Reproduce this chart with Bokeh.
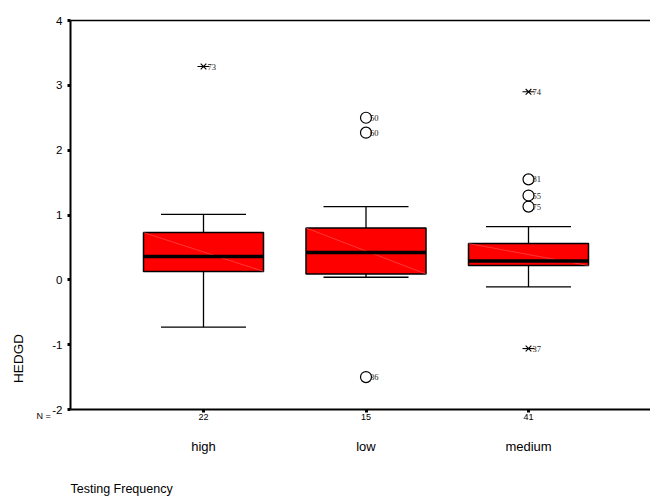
import math
from bokeh.plotting import figure
from bokeh.models import Range1d, FixedTicker, LinearAxis, Label
from bokeh.embed import file_html
from bokeh.resources import INLINE

# ---- data ----
categories = ["high", "low", "medium"]
n_counts = ["22", "15", "41"]
q1 = [0.13, 0.09, 0.22]
medians = [0.36, 0.42, 0.29]
q3 = [0.73, 0.80, 0.56]
whisker_low = [-0.73, 0.04, -0.11]
whisker_high = [1.01, 1.13, 0.82]

out_cat = ["high", "low", "low", "low", "medium", "medium", "medium", "medium", "medium"]
out_val = [3.29, 2.50, 2.27, -1.50, 2.90, 1.55, 1.30, 1.13, -1.06]
out_id = ["73", "50", "60", "36", "74", "81", "55", "75", "37"]
out_kind = ["extreme", "outlier", "outlier", "outlier", "extreme", "outlier", "outlier", "outlier", "extreme"]

y_ticks = [-2, -1, 0, 1, 2, 3, 4]
y_min, y_max = -2, 4

# ---- layout (pixel geometry of the canvas) ----
FONT = "Liberation Sans"
W, H = 650, 500
PLOT_LEFT, PLOT_TOP, PLOT_BOTTOM = 70, 20, 409     # canvas px of the axes box
FIRST_CAT_PX, CAT_STEP = 203, 162.5                # canvas px of first category, spacing
ppy = (PLOT_BOTTOM - PLOT_TOP) / (y_max - y_min)

def xd(px):
    return 1 + (px - FIRST_CAT_PX) / CAT_STEP

def yd(py):
    return y_max - (py - PLOT_TOP) / ppy

x_range = Range1d(xd(0), xd(W))
y_range = Range1d(yd(H), yd(0))
x_axis_start = xd(PLOT_LEFT)

p = figure(width=W, height=H, output_backend="svg", toolbar_location=None,
           x_range=x_range, y_range=y_range, title=None,
           min_border_left=0, min_border_top=0, min_border_bottom=0, min_border_right=0)
p.outline_line_color = None
p.grid.visible = False
p.background_fill_color = "white"
p.border_fill_color = "white"

xs = [i + 1 for i in range(len(categories))]
pos = dict(zip(categories, xs))
box_w = 120 / CAT_STEP
cap_w = 85 / CAT_STEP

# whiskers
p.segment(xs, q3, xs, whisker_high, line_color="black", line_width=1.3)
p.segment(xs, q1, xs, whisker_low, line_color="black", line_width=1.3)
p.segment([x - cap_w / 2 for x in xs], whisker_high, [x + cap_w / 2 for x in xs], whisker_high,
          line_color="black", line_width=1.3)
p.segment([x - cap_w / 2 for x in xs], whisker_low, [x + cap_w / 2 for x in xs], whisker_low,
          line_color="black", line_width=1.3)
# boxes
p.vbar(x=xs, width=box_w, bottom=q1, top=q3, fill_color="#ff0000", line_color="black", line_width=1.5)
# faint diagonal artifact
p.segment([x - box_w / 2 for x in xs], q3, [x + box_w / 2 for x in xs], q1,
          line_color="#ff5a5a", line_width=0.6)
# medians
p.segment([x - box_w / 2 for x in xs], medians, [x + box_w / 2 for x in xs], medians,
          line_color="black", line_width=3.5)

# outliers
ox = [pos[c] for c in out_cat]
cx = [x for x, k in zip(ox, out_kind) if k == "outlier"]
cy = [v for v, k in zip(out_val, out_kind) if k == "outlier"]
ex = [x for x, k in zip(ox, out_kind) if k == "extreme"]
ey = [v for v, k in zip(out_val, out_kind) if k == "extreme"]
p.scatter(cx, cy, marker="circle", size=11, fill_color="white", fill_alpha=0,
          line_color="black", line_width=1.2)
p.scatter(ex, ey, marker="x", size=8, line_color="black", line_width=1.1)
p.scatter(ex, ey, marker="dash", size=12, line_color="black", line_width=1.1)
p.text(ox, out_val, text=out_id, x_offset=4, text_baseline="middle", text_align="left",
       text_font=FONT, text_font_size="8.5px", text_color="#222222")

# axes (fixed in place inside the canvas)
ya = p.yaxis[0]
ya.fixed_location = x_axis_start
ya.bounds = (y_min, y_max)
ya.ticker = FixedTicker(ticks=y_ticks)
ya.major_label_overrides = {t: str(t) for t in y_ticks}
ya.minor_tick_line_color = None
ya.major_tick_in = 0
ya.major_tick_out = 3
ya.major_tick_line_width = 3
ya.axis_line_width = 2
ya.major_label_text_font = FONT
ya.major_label_text_font_size = "11.5px"
ya.major_label_text_color = "black"
ya.major_label_standoff = 5

xa = p.xaxis[0]
xa.fixed_location = y_min
xa.bounds = (x_axis_start, x_range.end)
xa.ticker = FixedTicker(ticks=xs)
xa.major_label_overrides = {x: n for x, n in zip(xs, n_counts)}
xa.minor_tick_line_color = None
xa.major_tick_in = 0
xa.major_tick_out = 3
xa.major_tick_line_width = 3
xa.axis_line_width = 2
xa.major_label_text_font = FONT
xa.major_label_text_font_size = "9px"
xa.major_label_text_color = "black"
xa.major_label_standoff = 1

xa2 = LinearAxis(ticker=FixedTicker(ticks=xs), fixed_location=y_min,
                 major_label_overrides={x: c for x, c in zip(xs, categories)})
xa2.axis_line_color = None
xa2.major_tick_line_color = None
xa2.minor_tick_line_color = None
xa2.major_tick_in = 0
xa2.major_tick_out = 0
xa2.major_label_text_font = FONT
xa2.major_label_text_font_size = "13px"
xa2.major_label_text_color = "black"
xa2.major_label_standoff = 29
p.add_layout(xa2, "below")

top = LinearAxis(fixed_location=y_max, bounds=(x_axis_start, x_range.end), ticker=FixedTicker(ticks=[]))
top.axis_line_width = 1.5
top.major_tick_line_color = None
top.minor_tick_line_color = None
top.major_label_text_font_size = "0px"
p.add_layout(top, "above")

# texts
p.add_layout(Label(x=xd(18), y=yd(358), text="HEDGD", angle=math.pi / 2,
                   text_align="center", text_baseline="middle",
                   text_font=FONT, text_font_size="13.5px", text_color="black"))
p.add_layout(Label(x=xd(PLOT_LEFT), y=yd(488), text="Testing Frequency",
                   text_align="left", text_baseline="middle",
                   text_font=FONT, text_font_size="12.5px", text_color="black"))
p.add_layout(Label(x=xd(36), y=yd(415), text="N =",
                   text_align="left", text_baseline="middle",
                   text_font=FONT, text_font_size="9px", text_color="black"))

open("out.html", "w").write(file_html(p, INLINE))
